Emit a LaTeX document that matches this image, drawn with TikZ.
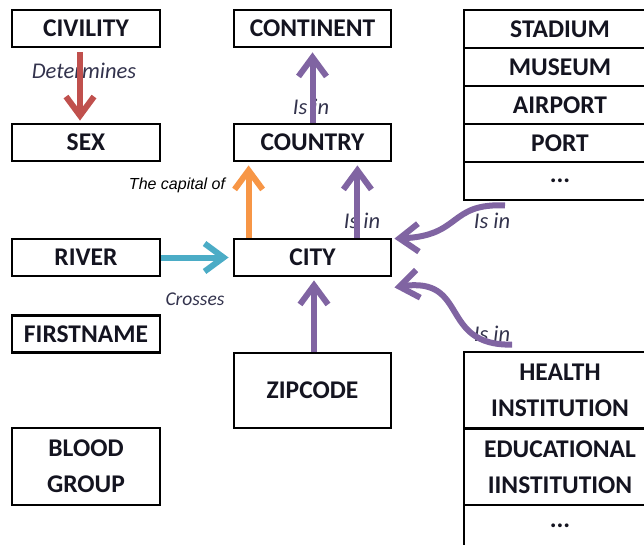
\documentclass[tikz,border=0pt]{standalone}
\usepackage{fontspec}
\setmainfont{Carlito}
\newfontfamily\narrowfont{Liberation Sans}
\usetikzlibrary{arrows.meta}
\definecolor{redarr}{HTML}{C0504D}
\definecolor{purplearr}{HTML}{8064A2}
\definecolor{orangearr}{HTML}{F79646}
\definecolor{cyanarr}{HTML}{4BACC6}
\definecolor{labeltext}{HTML}{33334D}
\definecolor{boxtext}{HTML}{141420}
\tikzset{
  entity/.style={draw=black, line width=2.8pt, inner sep=0pt, align=center,
    text=boxtext, font=\fontsize{25.5}{36}\selectfont\bfseries},
  leftbox/.style={entity, minimum width=148pt, minimum height=37pt},
  midbox/.style={entity, minimum width=157pt, minimum height=37pt},
  row/.style={entity, minimum width=192pt, minimum height=38pt},
  tallrow/.style={entity, minimum width=192pt, minimum height=76.5pt},
  rel/.style={text=labeltext, inner sep=0pt, font=\fontsize{22.5}{24}\selectfont\itshape},
  link/.style={line width=6pt, line cap=butt,
    -{Straight Barb[length=19pt, width=28pt, line width=6pt]}},
}
\begin{document}
\begin{tikzpicture}[x=1pt, y=-1pt]
  \useasboundingbox (0,0) rectangle (644,545);

  % left column
  \node[leftbox] (civility) at (86,28.5) {CIVILITY};
  \node[leftbox] (sex) at (86,142.5) {SEX};
  \node[leftbox] (river) at (86,257.5) {RIVER};
  \node[leftbox] (firstname) at (86,334) {FIRSTNAME};
  \node[leftbox, minimum height=77pt] (blood) at (86,466.5) {BLOOD\\GROUP};

  % middle column
  \node[midbox] (continent) at (312.5,28.5) {CONTINENT};
  \node[midbox] (country) at (312.5,142.5) {COUNTRY};
  \node[midbox] (city) at (312.5,257.5) {CITY};
  \node[midbox, minimum height=75pt] (zipcode) at (312.5,390.5) {ZIPCODE};

  % right column: places inside a city
  \node[row] (stadium) at (560,29) {STADIUM};
  \node[row] (museum) at (560,67) {MUSEUM};
  \node[row] (airport) at (560,105) {AIRPORT};
  \node[row] (port) at (560,143) {PORT};
  \node[row] (moreplaces) at (560,181) {...};

  % right column: institutions
  \node[tallrow] (health) at (560,390.25) {HEALTH\\INSTITUTION};
  \node[tallrow] (education) at (560,466.75) {EDUCATIONAL\\IINSTITUTION};
  \node[row, minimum height=60pt] (moreinst) at (560,535) {};
  \node[entity, draw=none] (moredots) at (560,526) {...};

  % relation labels
  \node[rel] (ldet) at (84,71) {Determines};
  \node[rel] (lcont) at (311,107) {Is in};
  \node[text=black, inner sep=0pt, font=\narrowfont\fontsize{16}{18}\selectfont\itshape] (lcap) at (177,185) {The capital of};
  \node[rel] (lcountry) at (362,221) {Is in};
  \node[rel, font=\fontsize{19.5}{22}\selectfont\itshape] (lcross) at (195,299) {Crosses};
  \node[rel] (lplaces) at (492,221) {Is in};
  \node[rel] (linst) at (492,334) {Is in};

  % connectors
  \draw[link, redarr, shorten <=4pt, shorten >=2pt]
    ([xshift=-6pt]civility.south) -- ([xshift=-6pt]sex.north);
  \draw[link, purplearr, shorten >=4pt]
    (country.north) -- (continent.south);
  \draw[link, orangearr, shorten >=3pt]
    ([xshift=16pt]city.north west) -- ([xshift=16pt]country.south west);
  \draw[link, purplearr, shorten >=3pt]
    ([xshift=-35pt]city.north east) -- ([xshift=-35pt]country.south east);
  \draw[link, cyanarr, shorten >=4pt]
    (river.east) -- (city.west);
  \draw[link, purplearr, shorten >=3pt]
    ([xshift=1.5pt]zipcode.north) -- ([xshift=1.5pt]city.south);
  \draw[link, purplearr]
    ([xshift=-55pt, yshift=-4pt]moreplaces.south) .. controls (448,203) and (462,236) .. ([xshift=2pt, yshift=-1pt]city.north east);
  \draw[link, purplearr]
    ([xshift=-48pt, yshift=6pt]health.north) .. controls (438,346) and (470,276) .. ([xshift=2pt, yshift=-10pt]city.south east);
\end{tikzpicture}
\end{document}
